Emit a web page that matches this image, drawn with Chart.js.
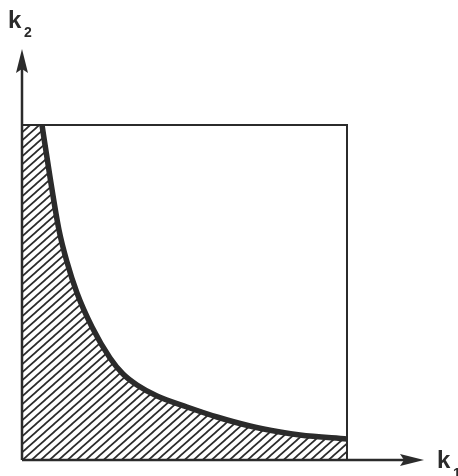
<!DOCTYPE html>
<html lang="en">
  <head>
    <meta charset="UTF-8" />
    <title>k1 k2 region</title>
    <script src="https://cdn.jsdelivr.net/npm/chart.js"></script>
    <style>
      body { margin: 0; background: #fff; }
      canvas { display: block; }
    </style>
    <script>
      // curve (arbitrary units, origin at the axes corner)
      const curveK1 = [20, 28, 37, 45, 55, 70, 88, 101, 115, 135, 165, 195, 228, 258, 278, 325];
      const curveK2 = [335, 283, 230, 198, 167, 133, 102, 86, 75, 64, 53, 43, 34, 28, 25, 21];
      // the square
      const boxK1 = [0, 325, 325];
      const boxK2 = [335, 335, 0];
      // axes, last point carries the arrowhead
      const xAxisK1 = [0, 390];
      const xAxisK2 = [0, 0];
      const yAxisK1 = [0, 0];
      const yAxisK2 = [0, 399];
      const axisLabels = ["k", "1", "k", "2"];

      const INK = "#2b2b2b";

      function zip(xs, ys) {
        return xs.map((x, i) => ({ x: x, y: ys[i] }));
      }

      function makeHatch() {
        const w = 9, h = 8;
        const c = document.createElement("canvas");
        c.width = w;
        c.height = h;
        const g = c.getContext("2d");
        g.strokeStyle = INK;
        g.lineWidth = 1.7;
        g.beginPath();
        g.moveTo(0, h);
        g.lineTo(w, 0);
        g.moveTo(-w, h);
        g.lineTo(0, 0);
        g.moveTo(w, h);
        g.lineTo(2 * w, 0);
        g.moveTo(0, 0);
        g.lineTo(w, -h);
        g.moveTo(0, 2 * h);
        g.lineTo(w, h);
        g.stroke();
        return g.createPattern(c, "repeat");
      }

      function makeArrow() {
        const c = document.createElement("canvas");
        c.width = 12;
        c.height = 24;
        const g = c.getContext("2d");
        g.fillStyle = INK;
        g.beginPath();
        g.moveTo(6, 0);
        g.lineTo(12, 24);
        g.lineTo(6, 20);
        g.lineTo(0, 24);
        g.closePath();
        g.fill();
        return c;
      }

      const labelPlugin = {
        id: "axisLabels",
        afterDraw(chart) {
          const { ctx, scales } = chart;
          const x = scales.x;
          const y = scales.y;
          ctx.save();
          ctx.fillStyle = INK;
          ctx.textBaseline = "alphabetic";
          // k1 at the end of the horizontal axis
          let px = x.getPixelForValue(xAxisK1[1]) + 25;
          let py = y.getPixelForValue(0) + 8;
          ctx.font = "bold 24px 'Liberation Sans'";
          ctx.fillText(axisLabels[0], px, py);
          ctx.font = "bold 14px 'Liberation Sans'";
          ctx.fillText(axisLabels[1], px + 16, py + 10);
          // k2 above the vertical axis
          px = x.getPixelForValue(0) - 14;
          py = y.getPixelForValue(yAxisK2[1]) - 33;
          ctx.font = "bold 24px 'Liberation Sans'";
          ctx.fillText(axisLabels[2], px, py);
          ctx.font = "bold 14px 'Liberation Sans'";
          ctx.fillText(axisLabels[3], px + 16, py + 9);
          ctx.restore();
        },
      };

      document.addEventListener("DOMContentLoaded", function () {
        const arrow = makeArrow();
        const arrowAt = (n) => ({
          pointRadius: (c) => (c.dataIndex === n - 1 ? 6 : 0),
          pointStyle: (c) => (c.dataIndex === n - 1 ? arrow : "circle"),
        });

        const data = {
          datasets: [
            {
              label: "hatched",
              data: [{ x: 0, y: curveK2[0] }].concat(zip(curveK1, curveK2)),
              showLine: true,
              borderWidth: 0,
              borderColor: "rgba(0,0,0,0)",
              backgroundColor: makeHatch(),
              fill: "origin",
              pointRadius: 0,
              cubicInterpolationMode: "monotone",
            },
            {
              label: "box",
              data: zip(boxK1, boxK2),
              showLine: true,
              borderColor: INK,
              borderWidth: 2,
              pointRadius: 0,
              fill: false,
            },
            {
              label: "curve",
              data: zip(curveK1, curveK2),
              showLine: true,
              borderColor: INK,
              borderWidth: 5.5,
              pointRadius: 0,
              fill: false,
              cubicInterpolationMode: "monotone",
            },
            Object.assign(
              {
                label: "x axis",
                data: zip(xAxisK1, xAxisK2),
                showLine: true,
                borderColor: INK,
                backgroundColor: INK,
                borderWidth: 2.5,
                pointRotation: 90,
                fill: false,
              },
              arrowAt(xAxisK1.length)
            ),
            Object.assign(
              {
                label: "y axis",
                data: zip(yAxisK1, yAxisK2),
                showLine: true,
                borderColor: INK,
                backgroundColor: INK,
                borderWidth: 2.5,
                fill: false,
              },
              arrowAt(yAxisK1.length)
            ),
          ],
        };

        const config = {
          type: "scatter",
          data: data,
          options: {
            responsive: false,
            animation: false,
            clip: false,
            layout: { padding: { left: 22, right: 26, top: 40, bottom: 16 } },
            plugins: { legend: { display: false }, tooltip: { enabled: false } },
            scales: {
              x: { type: "linear", min: 0, max: 410, display: false },
              y: { type: "linear", min: 0, max: 420, display: false },
            },
          },
          plugins: [labelPlugin],
        };

        new Chart(document.getElementById("chart"), config);
      });
    </script>
  </head>
  <body>
    <canvas id="chart" width="458" height="476"></canvas>
  </body>
</html>
